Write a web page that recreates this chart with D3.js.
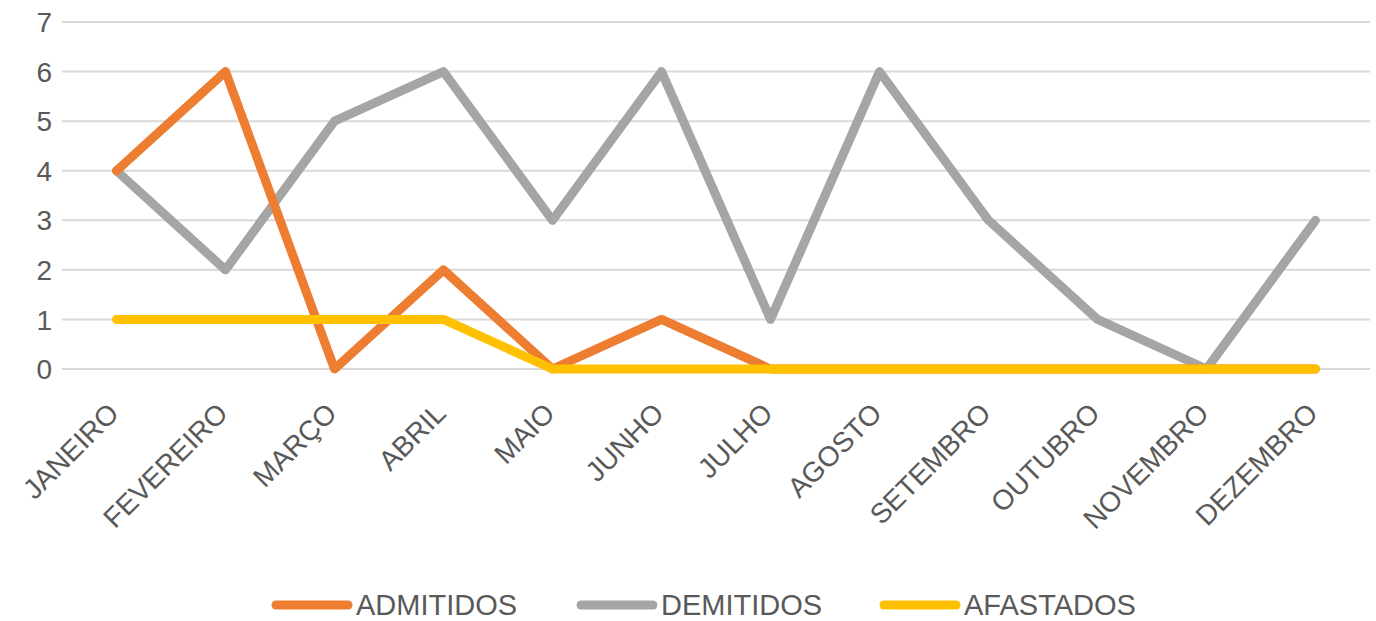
<!DOCTYPE html>
<html>
<head>
<meta charset="utf-8">
<script src="https://cdn.jsdelivr.net/npm/d3@7"></script>
<style>
  html, body { margin: 0; padding: 0; background: #fff; overflow: hidden; }
  svg text { font-family: "Liberation Sans", Arial, sans-serif; fill: #595959; }
</style>
</head>
<body>
<svg id="chart"></svg>
<script>
const months = ['JANEIRO', 'FEVEREIRO', 'MARÇO', 'ABRIL', 'MAIO', 'JUNHO', 'JULHO', 'AGOSTO', 'SETEMBRO', 'OUTUBRO', 'NOVEMBRO', 'DEZEMBRO'];
const admitidos = [4, 6, 0, 2, 0, 1, 0, 0, 0, 0, 0, 0];
const demitidos = [4, 2, 5, 6, 3, 6, 1, 6, 3, 1, 0, 3];
const afastados = [1, 1, 1, 1, 0, 0, 0, 0, 0, 0, 0, 0];
const yTicks = [0, 1, 2, 3, 4, 5, 6, 7];

const series = [
  { name: 'ADMITIDOS', values: admitidos, color: '#ED7D31' },
  { name: 'DEMITIDOS', values: demitidos, color: '#A5A5A5' },
  { name: 'AFASTADOS', values: afastados, color: '#FFC000' }
];

const W = 1376, H = 621;
const margin = { top: 22, right: 6, bottom: 252, left: 62 };
const width = W - margin.left - margin.right;
const height = H - margin.top - margin.bottom;

const svg = d3.select('#chart').attr('width', W).attr('height', H);
const g = svg.append('g').attr('transform', `translate(${margin.left},${margin.top})`);

const x = d3.scaleBand().domain(months).range([0, width]);
const y = d3.scaleLinear().domain([0, 7]).range([height, 0]);

// gridlines
g.selectAll('.grid')
  .data(yTicks)
  .enter().append('line')
  .attr('x1', 0).attr('x2', width)
  .attr('y1', d => y(d)).attr('y2', d => y(d))
  .attr('stroke', '#d9d9d9').attr('stroke-width', 2);

// y labels
g.selectAll('.ylab')
  .data(yTicks)
  .enter().append('text')
  .attr('x', -10).attr('y', d => y(d))
  .attr('dy', '0.36em')
  .attr('text-anchor', 'end')
  .style('font-size', '28px')
  .text(d => d);

// x labels
g.selectAll('.xlab')
  .data(months)
  .enter().append('text')
  .attr('transform', d => `translate(${x(d) + x.bandwidth() / 2 + 4},${height + 46}) rotate(-45)`)
  .attr('text-anchor', 'end')
  .style('font-size', '28px')
  .text(d => d);

const line = d3.line()
  .x((d, i) => x(months[i]) + x.bandwidth() / 2)
  .y(d => y(d));

// draw order: grey under orange, yellow on top
[series[1], series[0], series[2]].forEach(s => {
  g.append('path')
    .datum(s.values)
    .attr('d', line)
    .attr('fill', 'none')
    .attr('stroke', s.color)
    .attr('stroke-width', 9)
    .attr('stroke-linejoin', 'round')
    .attr('stroke-linecap', 'round');
});

// legend
const legendX = [272, 577, 880];
const legend = svg.selectAll('.legend')
  .data(series)
  .enter().append('g')
  .attr('transform', (d, i) => `translate(${legendX[i]},605)`);

legend.append('line')
  .attr('x1', 4).attr('x2', 76)
  .attr('stroke', d => d.color)
  .attr('stroke-width', 9)
  .attr('stroke-linecap', 'round');

legend.append('text')
  .attr('x', 84).attr('dy', '0.36em')
  .style('font-size', '29px')
  .text(d => d.name);
</script>
</body>
</html>
